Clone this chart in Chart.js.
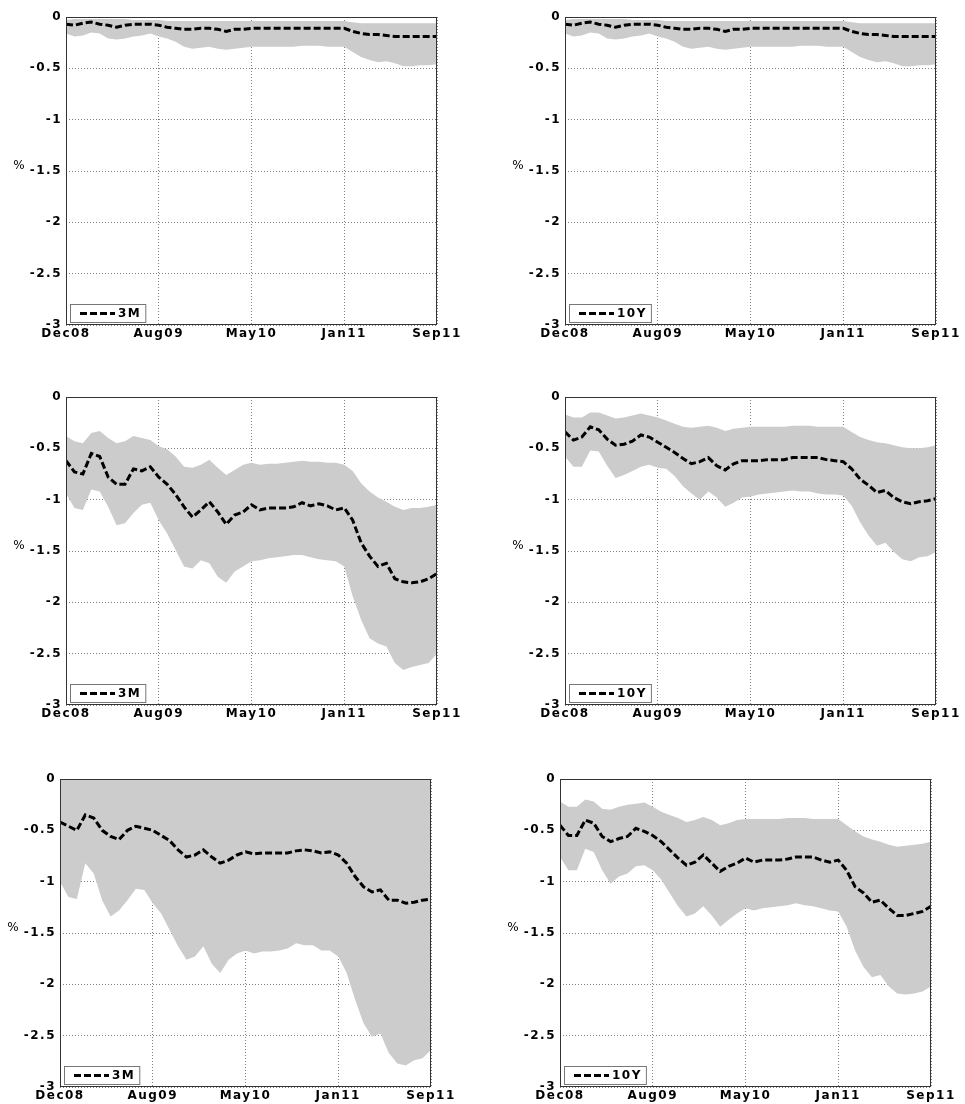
<!DOCTYPE html>
<html>
<head>
<meta charset="utf-8">
<script src="https://cdn.jsdelivr.net/npm/chart.js@4.4.1/dist/chart.umd.min.js"></script>
<style>
body { margin: 0; background: #fff; }
.panel { position: absolute; width: 461px; height: 344px; }
</style>
</head>
<body>
<div class="panel" style="left:6px;top:5px"><canvas id="c1"></canvas></div>
<div class="panel" style="left:505px;top:5px"><canvas id="c2"></canvas></div>
<div class="panel" style="left:6px;top:385px"><canvas id="c3"></canvas></div>
<div class="panel" style="left:505px;top:385px"><canvas id="c4"></canvas></div>
<div class="panel" style="left:0px;top:767px"><canvas id="c5"></canvas></div>
<div class="panel" style="left:500px;top:767px"><canvas id="c6"></canvas></div>
<script>
// x axis: 45 observations Dec08..Sep11, labelled at 5 evenly spaced points
const tickLabels = ['Dec08', 'Aug09', 'May10', 'Jan11', 'Sep11'];
const tickPos = [0, 11, 22, 33, 44];

// row 1 (both panels look the same)
const topUpper = [-0.03,-0.02,-0.02,-0.02,-0.02,-0.02,-0.02,-0.02,-0.03,-0.03, -0.03,-0.03,-0.04,-0.04,-0.04,-0.04,-0.04,-0.04,-0.04,-0.04, -0.04,-0.04,-0.04,-0.04,-0.04,-0.04,-0.04,-0.04,-0.04,-0.04, -0.04,-0.04,-0.04,-0.04,-0.05,-0.06,-0.06,-0.06,-0.06,-0.06, -0.06,-0.06,-0.06,-0.06,-0.06];
const topLower = [-0.16,-0.19,-0.18,-0.15,-0.16,-0.21,-0.22,-0.21,-0.19,-0.18, -0.16,-0.19,-0.21,-0.24,-0.29,-0.31,-0.3,-0.29,-0.31,-0.32, -0.31,-0.3,-0.29,-0.29,-0.29,-0.29,-0.29,-0.29,-0.28,-0.28, -0.28,-0.29,-0.29,-0.29,-0.34,-0.39,-0.42,-0.44,-0.43,-0.45, -0.48,-0.48,-0.47,-0.47,-0.46];
const topMedian = [-0.07,-0.08,-0.06,-0.05,-0.07,-0.08,-0.1,-0.08,-0.07,-0.07, -0.07,-0.08,-0.1,-0.11,-0.12,-0.12,-0.11,-0.11,-0.12,-0.14, -0.12,-0.12,-0.11,-0.11,-0.11,-0.11,-0.11,-0.11,-0.11,-0.11, -0.11,-0.11,-0.11,-0.11,-0.14,-0.16,-0.17,-0.17,-0.18,-0.19, -0.19,-0.19,-0.19,-0.19,-0.19];

// row 2
const midShortUpper = [-0.38,-0.43,-0.45,-0.35,-0.33,-0.4,-0.45,-0.43,-0.38,-0.4, -0.42,-0.48,-0.51,-0.58,-0.68,-0.69,-0.66,-0.61,-0.69,-0.76, -0.71,-0.66,-0.64,-0.66,-0.65,-0.65,-0.64,-0.63,-0.62,-0.63, -0.63,-0.64,-0.64,-0.66,-0.72,-0.84,-0.92,-0.98,-1.02,-1.07, -1.1,-1.08,-1.08,-1.07,-1.05];
const midShortLower = [-0.94,-1.08,-1.1,-0.9,-0.92,-1.07,-1.25,-1.23,-1.13,-1.05, -1.03,-1.2,-1.33,-1.49,-1.65,-1.67,-1.59,-1.62,-1.75,-1.81, -1.7,-1.65,-1.6,-1.59,-1.57,-1.56,-1.55,-1.54,-1.54,-1.56, -1.58,-1.59,-1.6,-1.65,-1.94,-2.17,-2.35,-2.4,-2.43,-2.59, -2.66,-2.63,-2.61,-2.59,-2.5];
const midShortMedian = [-0.62,-0.73,-0.75,-0.55,-0.58,-0.78,-0.85,-0.85,-0.7,-0.72, -0.68,-0.78,-0.85,-0.95,-1.07,-1.17,-1.1,-1.02,-1.12,-1.24, -1.15,-1.12,-1.05,-1.1,-1.08,-1.08,-1.08,-1.07,-1.03,-1.06, -1.04,-1.06,-1.1,-1.08,-1.2,-1.42,-1.55,-1.65,-1.62,-1.77, -1.8,-1.81,-1.8,-1.77,-1.72];
const midLongUpper = [-0.17,-0.2,-0.2,-0.15,-0.15,-0.18,-0.21,-0.2,-0.18,-0.16, -0.18,-0.2,-0.23,-0.26,-0.29,-0.3,-0.29,-0.28,-0.3,-0.33, -0.31,-0.3,-0.29,-0.29,-0.29,-0.29,-0.29,-0.28,-0.28,-0.28, -0.29,-0.29,-0.29,-0.29,-0.34,-0.39,-0.42,-0.44,-0.45,-0.47, -0.49,-0.5,-0.5,-0.49,-0.47];
const midLongLower = [-0.58,-0.68,-0.68,-0.52,-0.53,-0.67,-0.79,-0.76,-0.72,-0.68, -0.66,-0.69,-0.7,-0.77,-0.87,-0.94,-1.0,-0.92,-0.98,-1.07, -1.03,-0.98,-0.97,-0.95,-0.94,-0.93,-0.92,-0.91,-0.92,-0.92, -0.94,-0.95,-0.95,-0.96,-1.06,-1.22,-1.35,-1.45,-1.42,-1.51, -1.58,-1.6,-1.56,-1.55,-1.51];
const midLongMedian = [-0.34,-0.42,-0.39,-0.29,-0.32,-0.41,-0.47,-0.46,-0.43,-0.37, -0.39,-0.44,-0.49,-0.54,-0.6,-0.65,-0.63,-0.59,-0.67,-0.71, -0.65,-0.62,-0.62,-0.62,-0.61,-0.61,-0.61,-0.59,-0.59,-0.59, -0.59,-0.61,-0.62,-0.63,-0.7,-0.8,-0.86,-0.93,-0.91,-0.98, -1.02,-1.04,-1.02,-1.01,-0.99];

// row 3
const lowShortUpper = [0,0,0,0,0,0,0,0,0,0, 0,0,0,0,0,0,0,0,0,0, 0,0,0,0,0,0,0,0,0,0, 0,0,0,0,0,0,0,0,0,0, 0,0,0,0,0];
const lowShortLower = [-1.0,-1.15,-1.17,-0.82,-0.92,-1.18,-1.34,-1.28,-1.18,-1.07, -1.08,-1.21,-1.31,-1.47,-1.63,-1.76,-1.73,-1.63,-1.8,-1.89, -1.76,-1.7,-1.67,-1.7,-1.68,-1.68,-1.67,-1.65,-1.6,-1.62, -1.62,-1.67,-1.67,-1.73,-1.89,-2.15,-2.38,-2.51,-2.48,-2.67, -2.77,-2.79,-2.74,-2.72,-2.64];
const lowShortMedian = [-0.42,-0.46,-0.5,-0.35,-0.38,-0.5,-0.56,-0.59,-0.5,-0.46, -0.48,-0.5,-0.55,-0.6,-0.69,-0.76,-0.74,-0.69,-0.76,-0.82, -0.79,-0.74,-0.71,-0.73,-0.72,-0.72,-0.72,-0.72,-0.7,-0.69, -0.7,-0.72,-0.71,-0.74,-0.82,-0.95,-1.05,-1.1,-1.08,-1.18, -1.18,-1.21,-1.2,-1.18,-1.17];
const lowLongUpper = [-0.22,-0.27,-0.27,-0.2,-0.22,-0.29,-0.3,-0.27,-0.25,-0.24, -0.23,-0.27,-0.32,-0.35,-0.38,-0.42,-0.4,-0.37,-0.4,-0.45, -0.43,-0.4,-0.39,-0.39,-0.39,-0.39,-0.39,-0.38,-0.38,-0.38, -0.39,-0.39,-0.39,-0.39,-0.45,-0.51,-0.56,-0.59,-0.61,-0.64, -0.66,-0.65,-0.64,-0.63,-0.61];
const lowLongLower = [-0.76,-0.89,-0.89,-0.68,-0.71,-0.89,-1.02,-0.95,-0.92,-0.85, -0.84,-0.89,-0.98,-1.11,-1.24,-1.34,-1.31,-1.24,-1.33,-1.44, -1.37,-1.31,-1.26,-1.28,-1.26,-1.25,-1.24,-1.23,-1.21,-1.23, -1.24,-1.26,-1.28,-1.29,-1.44,-1.67,-1.83,-1.93,-1.91,-2.02, -2.09,-2.1,-2.09,-2.07,-2.02];
const lowLongMedian = [-0.45,-0.55,-0.55,-0.4,-0.43,-0.56,-0.61,-0.58,-0.56,-0.48, -0.51,-0.55,-0.61,-0.69,-0.77,-0.84,-0.81,-0.74,-0.82,-0.9, -0.85,-0.82,-0.77,-0.81,-0.79,-0.79,-0.79,-0.78,-0.76,-0.76, -0.76,-0.79,-0.81,-0.79,-0.89,-1.05,-1.11,-1.2,-1.18,-1.26, -1.33,-1.33,-1.31,-1.29,-1.24];

const panels = [
  ['c1', '3M', topUpper, topLower, topMedian],
  ['c2', '10Y', topUpper, topLower, topMedian],
  ['c3', '3M', midShortUpper, midShortLower, midShortMedian],
  ['c4', '10Y', midLongUpper, midLongLower, midLongMedian],
  ['c5', '3M', lowShortUpper, lowShortLower, lowShortMedian],
  ['c6', '10Y', lowLongUpper, lowLongLower, lowLongMedian],
];

const tickFont = { family: '"DejaVu Sans"', size: 12, weight: 'bold' };
Chart.defaults.font.family = tickFont.family;
Chart.defaults.font.size = 12;
Chart.defaults.color = '#000';

// the old plot font is wide, spread the letters a little
const SPACING = '1.5px';
const wide = {
  id: 'wide',
  beforeLayout(chart) { chart.ctx.letterSpacing = SPACING; },
  beforeDraw(chart) { chart.ctx.letterSpacing = SPACING; }
};

// box round the axes, the '%' label and the legend in the lower left corner
const axesBox = {
  id: 'axesBox',
  afterDraw(chart) {
    const ctx = chart.ctx, a = chart.chartArea;
    ctx.save();
    ctx.strokeStyle = '#333';
    ctx.lineWidth = 1;
    ctx.setLineDash([]);
    ctx.strokeRect(a.left + 0.5, a.top + 0.5, a.right - a.left - 1, a.bottom - a.top - 1);

    ctx.letterSpacing = '0px';
    ctx.font = '12px "DejaVu Sans"';
    ctx.fillStyle = '#000';
    ctx.textAlign = 'center';
    ctx.textBaseline = 'middle';
    ctx.fillText('%', a.left - 47, chart.scales.y.getPixelForValue(-1.5) - 5);

    ctx.letterSpacing = SPACING;
    ctx.font = 'bold 12px "DejaVu Sans"';
    const label = chart.data.datasets[2].label;
    const tw = ctx.measureText(label).width;
    const bx = a.left + 4, bh = 18, by = a.bottom - 3 - bh;
    const bw = 10 + 35 + 3 + tw + 4;
    ctx.fillStyle = '#fff';
    ctx.fillRect(bx, by, bw, bh);
    ctx.strokeStyle = '#777';
    ctx.strokeRect(bx + 0.5, by + 0.5, bw, bh);
    ctx.strokeStyle = '#000';
    ctx.lineWidth = 3;
    ctx.setLineDash([7, 3]);
    ctx.beginPath();
    ctx.moveTo(bx + 10, by + bh / 2 + 0.5);
    ctx.lineTo(bx + 45, by + bh / 2 + 0.5);
    ctx.stroke();
    ctx.fillStyle = '#000';
    ctx.textAlign = 'left';
    ctx.fillText(label, bx + 48, by + bh / 2 + 1);
    ctx.restore();
  }
};

const pts = arr => arr.map((v, i) => ({ x: i, y: v }));

panels.forEach(([id, name, up, lo, med]) => {
  new Chart(document.getElementById(id), {
    type: 'line',
    data: {
      datasets: [
        { label: 'upper', data: pts(up), borderWidth: 0, pointRadius: 0, fill: '+1',
          backgroundColor: '#cccccc', borderColor: '#cccccc', order: 2 },
        { label: 'lower', data: pts(lo), borderWidth: 0, pointRadius: 0, fill: false,
          borderColor: '#cccccc', order: 1 },
        { label: name, data: pts(med), borderColor: '#000', borderWidth: 3,
          borderDash: [7, 3], pointRadius: 0, fill: false, order: 0 }
      ]
    },
    options: {
      animation: false,
      responsive: true,
      maintainAspectRatio: false,
      layout: { padding: { top: 12, right: 30, left: 0, bottom: 0 } },
      plugins: { legend: { display: false }, tooltip: { enabled: false } },
      scales: {
        x: {
          type: 'linear', min: 0, max: 44, z: 1,
          grid: { color: 'rgba(0,0,0,0.5)', drawTicks: false },
          border: { display: false, dash: [1, 2] },
          ticks: { autoSkip: false, maxRotation: 0, padding: 2, font: tickFont,
            callback: v => tickLabels[tickPos.indexOf(v)] },
          afterBuildTicks: s => { s.ticks = tickPos.map(v => ({ value: v })); },
          afterFit: s => { s.height = 24; s.paddingLeft = 0; s.paddingRight = 0; }
        },
        y: {
          min: -3, max: 0, z: 1,
          grid: { color: 'rgba(0,0,0,0.5)', drawTicks: false },
          border: { display: false, dash: [1, 2] },
          ticks: { stepSize: 0.5, padding: 4, font: tickFont,
            callback: v => String(Number(v.toFixed(1))) },
          afterFit: s => { s.width = 60; s.paddingTop = 0; s.paddingBottom = 0; }
        }
      }
    },
    plugins: [wide, axesBox]
  });
});
</script>
</body>
</html>
